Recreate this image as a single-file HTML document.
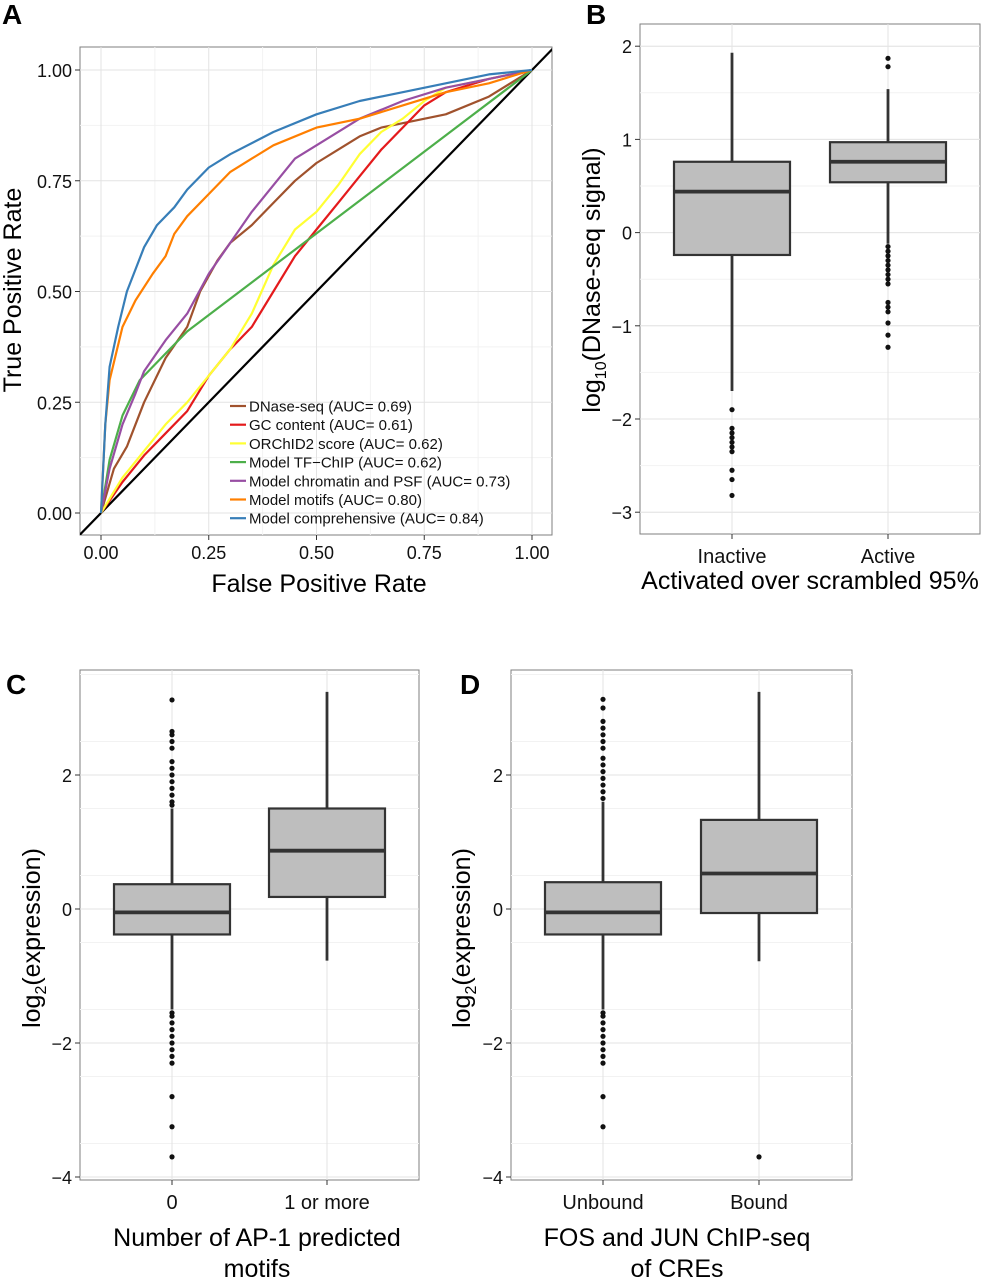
<!DOCTYPE html>
<html><head><meta charset="utf-8"><style>
body{margin:0;background:#fff;}
svg{display:block;font-family:"Liberation Sans",sans-serif;}
</style></head><body>
<svg id="fig" width="993" height="1280" viewBox="0 0 993 1280">
<defs>
<clipPath id="clipA"><rect x="80" y="47" width="472" height="488"/></clipPath>
</defs>
</svg>
<script>
// ---------- Panel A data ----------
const rocNames=["DNase-seq (AUC= 0.69)","GC content (AUC= 0.61)","ORChID2 score (AUC= 0.62)","Model TF\u2212ChIP (AUC= 0.62)","Model chromatin and PSF (AUC= 0.73)","Model motifs (AUC= 0.80)","Model comprehensive (AUC= 0.84)"];
const rocColors=["#a0522d","#e41a1c","#ffff33","#4daf4a","#984ea3","#ff7f00","#377eb8"];
const fprDNase=[0,0.03,0.06,0.1,0.15,0.2,0.23,0.27,0.3,0.35,0.4,0.45,0.5,0.55,0.6,0.65,0.7,0.8,0.9,1];
const tprDNase=[0,0.1,0.15,0.25,0.35,0.42,0.5,0.57,0.61,0.65,0.7,0.75,0.79,0.82,0.85,0.87,0.88,0.9,0.94,1];
const fprGC=[0,0.05,0.1,0.15,0.2,0.25,0.3,0.35,0.4,0.45,0.5,0.55,0.6,0.65,0.7,0.75,0.8,0.9,1];
const tprGC=[0,0.07,0.13,0.18,0.23,0.31,0.37,0.42,0.5,0.58,0.64,0.7,0.76,0.82,0.87,0.92,0.95,0.98,1];
const fprORC=[0,0.05,0.1,0.15,0.2,0.25,0.3,0.35,0.4,0.45,0.5,0.55,0.6,0.65,0.7,0.75,0.8,0.9,1];
const tprORC=[0,0.08,0.14,0.2,0.25,0.31,0.37,0.45,0.56,0.64,0.68,0.74,0.81,0.86,0.89,0.93,0.96,0.98,1];
const fprTF=[0,0.02,0.05,0.09,0.15,0.2,1];
const tprTF=[0,0.12,0.22,0.3,0.36,0.41,1];
const fprChrom=[0,0.02,0.05,0.08,0.1,0.15,0.2,0.25,0.3,0.35,0.4,0.45,0.5,0.6,0.7,0.8,0.9,1];
const tprChrom=[0,0.1,0.2,0.27,0.32,0.39,0.45,0.54,0.61,0.68,0.74,0.8,0.83,0.89,0.93,0.96,0.98,1];
const fprMotif=[0,0.01,0.02,0.05,0.08,0.12,0.15,0.17,0.2,0.25,0.3,0.35,0.4,0.5,0.6,0.7,0.8,0.9,1];
const tprMotif=[0,0.2,0.3,0.42,0.48,0.54,0.58,0.63,0.67,0.72,0.77,0.8,0.83,0.87,0.89,0.92,0.95,0.97,1];
const fprComp=[0,0.01,0.02,0.04,0.06,0.08,0.1,0.13,0.17,0.2,0.25,0.3,0.4,0.5,0.6,0.7,0.8,0.9,1];
const tprComp=[0,0.2,0.33,0.42,0.5,0.55,0.6,0.65,0.69,0.73,0.78,0.81,0.86,0.9,0.93,0.95,0.97,0.99,1];
const rocTicks=[0,0.25,0.5,0.75,1];
const rocTickLabels=["0.00","0.25","0.50","0.75","1.00"];
// ---------- Panel B data ----------
const catsB=["Inactive","Active"];
const q1B=[-0.24,0.54], medB=[0.44,0.76], q3B=[0.76,0.97], loB=[-1.7,-0.12], hiB=[1.93,1.54];
const outInactive=[-1.9,-2.1,-2.15,-2.2,-2.25,-2.3,-2.35,-2.55,-2.65,-2.82];
const outActive=[1.87,1.78,-0.15,-0.2,-0.25,-0.3,-0.35,-0.4,-0.45,-0.5,-0.55,-0.75,-0.8,-0.85,-0.97,-1.1,-1.23];
const ticksB=[-3,-2,-1,0,1,2];
// ---------- Panel C data ----------
const catsC=["0","1 or more"];
const q1C=[-0.38,0.18], medC=[-0.05,0.87], q3C=[0.37,1.5], loC=[-1.5,-0.77], hiC=[1.5,3.24];
const outC0=[1.55,1.6,1.7,1.8,1.9,2.0,2.1,2.2,2.4,2.5,2.6,2.65,3.12,-1.55,-1.6,-1.7,-1.8,-1.9,-2.0,-2.1,-2.2,-2.3,-2.8,-3.25,-3.7];
const outC1=[];
const ticksCD=[-4,-2,0,2];
// ---------- Panel D data ----------
const catsD=["Unbound","Bound"];
const q1D=[-0.38,-0.06], medD=[-0.05,0.53], q3D=[0.4,1.33], loD=[-1.5,-0.78], hiD=[1.6,3.24];
const outD0=[1.65,1.75,1.85,1.95,2.05,2.15,2.25,2.4,2.5,2.6,2.7,2.8,3.0,3.13,-1.55,-1.6,-1.7,-1.8,-1.9,-2.0,-2.1,-2.2,-2.3,-2.8,-3.25];
const outD1=[-3.7];

const NS="http://www.w3.org/2000/svg";
const svg=document.getElementById('fig');
function el(tag,attrs,parent){const e=document.createElementNS(NS,tag);for(const k in attrs)e.setAttribute(k,attrs[k]);(parent||svg).appendChild(e);return e;}
function txt(s,attrs,parent){const e=el('text',attrs,parent);e.textContent=s;return e;}

// ===== Panel A =====
const ax=v=>101+v*431, ay=v=>513-v*443;
const gA=el('g',{});


el('rect',{x:80,y:47,width:472,height:488,fill:'#fff',stroke:'#7f7f7f','stroke-width':1},gA);
[0.125,0.375,0.625,0.875].forEach(v=>{
 el('line',{x1:ax(v),x2:ax(v),y1:47,y2:535,stroke:'#f2f2f2','stroke-width':1},gA);
 el('line',{x1:80,x2:552,y1:ay(v),y2:ay(v),stroke:'#f2f2f2','stroke-width':1},gA);
});
rocTicks.forEach((v,i)=>{
 el('line',{x1:ax(v),x2:ax(v),y1:47,y2:535,stroke:'#e3e3e3','stroke-width':1},gA);
 el('line',{x1:80,x2:552,y1:ay(v),y2:ay(v),stroke:'#e3e3e3','stroke-width':1},gA);
 el('line',{x1:ax(v),x2:ax(v),y1:535,y2:540,stroke:'#333'},gA);
 el('line',{x1:75,x2:80,y1:ay(v),y2:ay(v),stroke:'#333'},gA);
 const xl=txt(rocTickLabels[i],{x:ax(v),y:559,'text-anchor':'middle','font-size':18,fill:'#111'},gA);
 
 
 const yl=txt(rocTickLabels[i],{x:72,y:ay(v)+7,'text-anchor':'end','font-size':18,fill:'#111'},gA);
 
 
});
const cl=el('g',{'clip-path':'url(#clipA)'},gA);
el('line',{x1:ax(-0.1),y1:ay(-0.1),x2:ax(1.1),y2:ay(1.1),stroke:'#000','stroke-width':2.2},cl);
const rocF=[fprDNase,fprGC,fprORC,fprTF,fprChrom,fprMotif,fprComp];
const rocT=[tprDNase,tprGC,tprORC,tprTF,tprChrom,tprMotif,tprComp];
rocF.forEach((f,k)=>{
 const d=f.map((x,i)=>(i?'L':'M')+ax(x).toFixed(1)+','+ay(rocT[k][i]).toFixed(1)).join(' ');
 const p=el('path',{d:d,fill:'none',stroke:rocColors[k],'stroke-width':2.2,'stroke-linejoin':'round'},cl);
 
 
});
rocNames.forEach((n,k)=>{
 const y=406+k*18.7;
 const ln=el('line',{x1:230,x2:246,y1:y,y2:y,stroke:rocColors[k],'stroke-width':2.2},gA);
 
 
 const t=txt(n,{x:249,y:y+5.5,'font-size':15,fill:'#111'},gA);
 
 
});
let t;
t=txt('False Positive Rate',{x:319,y:592,'text-anchor':'middle','font-size':25,fill:'#000'},gA);

t=txt('True Positive Rate',{x:0,y:0,transform:'translate(21,290) rotate(-90)','text-anchor':'middle','font-size':25,fill:'#000'},gA);

t=txt('A',{x:2,y:24,'font-size':28,'font-weight':'bold',fill:'#000'},gA);


// ===== Box panel helper =====
function boxPanel(o){
 const g=el('g',{});
 
 
 const sy=v=>o.y0-v*o.k;
 el('rect',{x:o.L,y:o.T,width:o.R-o.L,height:o.B-o.T,fill:'#fff',stroke:'#7f7f7f'},g);
 for(let v=o.ticks[0]-0.5; v<=o.ticks[o.ticks.length-1]+1.5; v+=o.step/2){
  if(sy(v)>o.T && sy(v)<o.B) el('line',{x1:o.L,x2:o.R,y1:sy(v),y2:sy(v),stroke:'#f2f2f2'},g);
 }
 o.ticks.forEach(v=>{
  el('line',{x1:o.L,x2:o.R,y1:sy(v),y2:sy(v),stroke:'#e3e3e3'},g);
  el('line',{x1:o.L-5,x2:o.L,y1:sy(v),y2:sy(v),stroke:'#333'},g);
  const l=txt(v<0?'\u2212'+(-v):String(v),{x:o.L-8,y:sy(v)+7,'text-anchor':'end','font-size':18,fill:'#111'},g);
  
  
 });
 o.cats.forEach((c,i)=>{
  const cx=o.cx[i];
  el('line',{x1:cx,x2:cx,y1:o.T,y2:o.B,stroke:'#e3e3e3'},g);
  el('line',{x1:cx,x2:cx,y1:o.B,y2:o.B+5,stroke:'#333'},g);
  const l=txt(c,{x:cx,y:o.B+29,'text-anchor':'middle','font-size':20,fill:'#111'},g);
  
  
  const w=el('line',{x1:cx,x2:cx,y1:sy(o.hi[i]),y2:sy(o.lo[i]),stroke:'#333','stroke-width':2.8},g);
  
  
  const b=el('rect',{x:cx-o.hw,y:sy(o.q3[i]),width:2*o.hw,height:sy(o.q1[i])-sy(o.q3[i]),fill:'#bebebe',stroke:'#333','stroke-width':2.2},g);
  
  
  el('line',{x1:cx-o.hw,x2:cx+o.hw,y1:sy(o.med[i]),y2:sy(o.med[i]),stroke:'#333','stroke-width':3.8},g);
  o.out[i].forEach(v=>{
   const p=el('circle',{cx:cx,cy:sy(v),r:2.6,fill:'#111'},g);
   
   
  });
 });
 return g;
}
const gB=boxPanel({name:'panel-b-boxplot',L:640,R:980,T:24,B:534,y0:232.6,k:93.2,step:1,ticks:ticksB,cats:catsB,cx:[732,888],hw:58,q1:q1B,med:medB,q3:q3B,lo:loB,hi:hiB,out:[outInactive,outActive]});
t=txt('Activated over scrambled 95%',{x:810,y:589,'text-anchor':'middle','font-size':25,fill:'#000'},gB);

t=el('text',{transform:'translate(600,280) rotate(-90)','text-anchor':'middle','font-size':25,fill:'#000'},gB);
t.innerHTML='log<tspan font-size="16" dy="6">10</tspan><tspan dy="-6">(DNase-seq signal)</tspan>';

t=txt('B',{x:586,y:24,'font-size':28,'font-weight':'bold',fill:'#000'},gB);


const gC=boxPanel({name:'panel-c-boxplot',L:80,R:419,T:670,B:1180,y0:909,k:67,step:2,ticks:ticksCD,cats:catsC,cx:[172,327],hw:58,q1:q1C,med:medC,q3:q3C,lo:loC,hi:hiC,out:[outC0,outC1]});
t=txt('Number of AP-1 predicted',{x:257,y:1246,'text-anchor':'middle','font-size':25,fill:'#000'},gC);

t=txt('motifs',{x:257,y:1277,'text-anchor':'middle','font-size':25,fill:'#000'},gC);
t=el('text',{transform:'translate(40,938) rotate(-90)','text-anchor':'middle','font-size':25,fill:'#000'},gC);
t.innerHTML='log<tspan font-size="16" dy="6">2</tspan><tspan dy="-6">(expression)</tspan>';

t=txt('C',{x:6,y:694,'font-size':28,'font-weight':'bold',fill:'#000'},gC);


const gD=boxPanel({name:'panel-d-boxplot',L:511,R:852,T:670,B:1180,y0:909,k:67,step:2,ticks:ticksCD,cats:catsD,cx:[603,759],hw:58,q1:q1D,med:medD,q3:q3D,lo:loD,hi:hiD,out:[outD0,outD1]});
t=txt('FOS and JUN ChIP-seq',{x:677,y:1246,'text-anchor':'middle','font-size':25,fill:'#000'},gD);

t=txt('of CREs',{x:677,y:1277,'text-anchor':'middle','font-size':25,fill:'#000'},gD);
t=el('text',{transform:'translate(470,938) rotate(-90)','text-anchor':'middle','font-size':25,fill:'#000'},gD);
t.innerHTML='log<tspan font-size="16" dy="6">2</tspan><tspan dy="-6">(expression)</tspan>';

t=txt('D',{x:460,y:694,'font-size':28,'font-weight':'bold',fill:'#000'},gD);

</script>
</body></html>
